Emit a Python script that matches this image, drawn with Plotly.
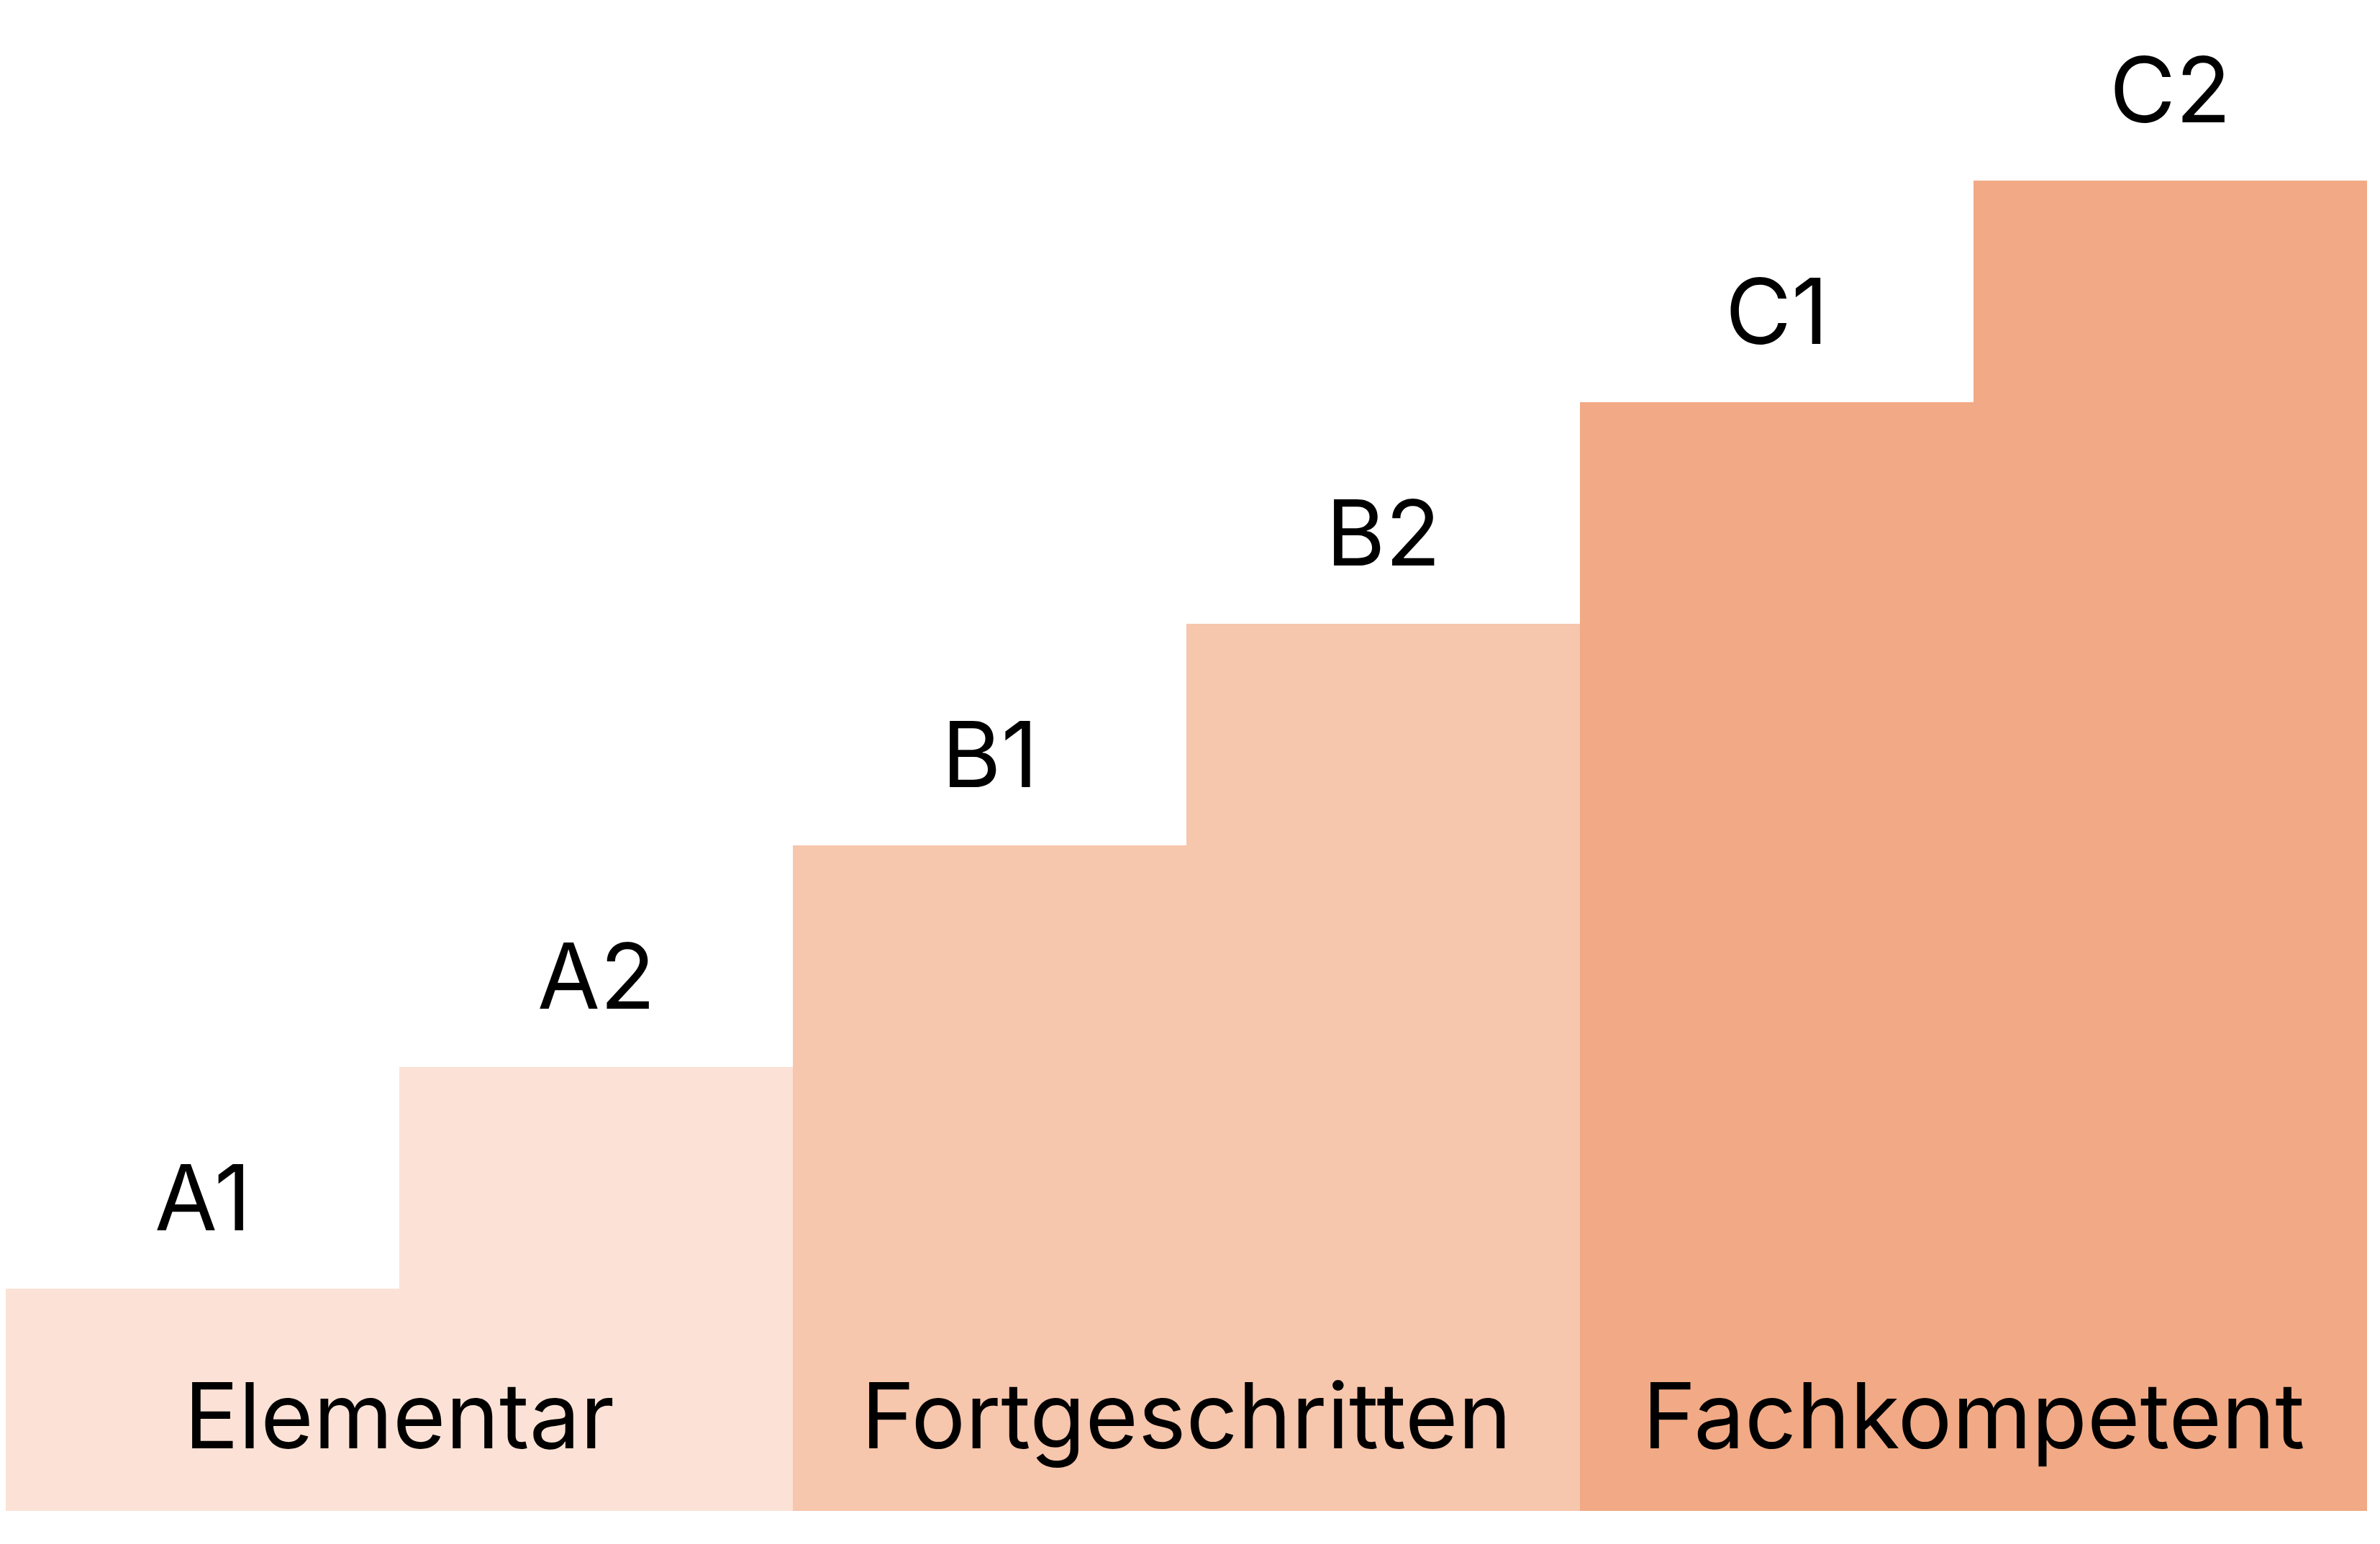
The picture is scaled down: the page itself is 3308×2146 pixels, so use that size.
import plotly.graph_objects as go

levels = ["A1", "A2", "B1", "B2", "C1", "C2"]
heights = [1, 2, 3, 4, 5, 6]
colors = ["#FCE2D6", "#FCE2D6", "#F6C6AD", "#F6C6AD", "#F1AA85", "#F1AA85"]
groups = ["Elementar", "Fortgeschritten", "Fachkompetent"]
group_pos = [0.5, 2.5, 4.5]

FONT = "Inter"
fig = go.Figure(go.Bar(x=list(range(6)), y=heights, width=1.0,
                       marker=dict(color=colors, line=dict(width=0)), hoverinfo="skip"))
for i, (lab, h) in enumerate(zip(levels, heights)):
    fig.add_annotation(x=i, y=h + 0.16, text=lab, showarrow=False, yanchor="bottom",
                       font=dict(family=FONT, size=126, color="#000"))
for g, p in zip(groups, group_pos):
    fig.add_annotation(x=p, y=0.43, text=g, showarrow=False, yanchor="middle",
                       font=dict(family=FONT, size=126, color="#000"))

fig.update_layout(width=3308, height=2146, margin=dict(l=0, r=0, t=0, b=0),
                  paper_bgcolor="white", plot_bgcolor="white", showlegend=False,
                  bargap=0)
fig.update_xaxes(range=[-0.5, -0.5 + 6 * 1552 / 1540], visible=False)
fig.update_yaxes(range=[-26 / 147, 1024 / 147 - 26 / 147], visible=False)
fig.write_html("out.html")
